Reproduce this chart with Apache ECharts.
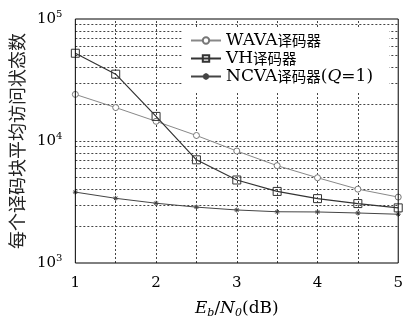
<!DOCTYPE html>
<html><head><meta charset="utf-8">
<script src="https://cdn.jsdelivr.net/npm/echarts@6/dist/echarts.min.js"></script>
<style>html,body{margin:0;padding:0;background:#fff}#c{width:406px;height:324px}</style>
</head><body><div id="c"></div>
<script>
const ebn0 = [1, 1.5, 2, 2.5, 3, 3.5, 4, 4.5, 5];
const wava = [24100, 18800, 14500, 11100, 8280, 6280, 5000, 4030, 3470];
const vh = [52400, 35300, 15900, 7010, 4790, 3860, 3370, 3070, 2830];
const ncva = [3810, 3390, 3090, 2870, 2720, 2630, 2620, 2570, 2510];
const xTicks = [1, 2, 3, 4, 5];
const yMinorGrid = [2000,3000,4000,5000,6000,7000,8000,9000,20000,30000,40000,50000,60000,70000,80000,90000,10000];
const xMinorGrid = [1.5, 2, 2.5, 3, 3.5, 4, 4.5];
const names = ['WAVA译码器', 'VH译码器', 'NCVA译码器(Q=1)'];
const legendText = ['{l|WAVA}{c|译码器}', '{l|VH}{c|译码器}', '{l|NCVA}{c|译码器}{l|(}{q|Q}{l|=1)}'];

const serif = '"DejaVu Serif","Liberation Serif",serif';
const cjk = '"Noto Sans CJK SC",sans-serif';
const gridLine = {color: '#444', width: 1, type: [2, 2]};
const chart = echarts.init(document.getElementById('c'), null, {renderer: 'canvas'});
const pair = a => a.map((v, i) => [ebn0[i], v]);
chart.setOption({
  animation: false,
  backgroundColor: '#fff',
  grid: {left: 74, right: 3, top: 19, bottom: 56, show: true, borderColor: '#000', borderWidth: 1, backgroundColor: 'transparent', z: 10},
  xAxis: {
    type: 'value', min: 1, max: 5, interval: 1,
    axisLine: {show: false}, axisTick: {show: false}, splitLine: {show: false},
    axisLabel: {fontFamily: serif, fontSize: 15, color: '#000', margin: 13},
    name: '{i|E}{s|b}{n|/}{i|N}{s|0}{n|(dB)}', nameLocation: 'middle', nameGap: 36,
    nameTextStyle: {rich: {
      i: {fontFamily: serif, fontStyle: 'italic', fontSize: 17, color: '#000', lineHeight: 20},
      n: {fontFamily: serif, fontSize: 17, color: '#000', lineHeight: 20},
      s: {fontFamily: serif, fontStyle: 'italic', fontSize: 11, color: '#000', lineHeight: 12, verticalAlign: 'bottom'}
    }}
  },
  yAxis: {
    type: 'log', logBase: 10, min: 1000, max: 100000,
    axisLine: {show: false}, axisTick: {show: false}, splitLine: {show: false},
    axisLabel: {
      margin: 13,
      formatter: v => '{b|10}{s|' + Math.round(Math.log10(v)) + '}',
      rich: {
        b: {fontFamily: serif, fontSize: 15, color: '#000', lineHeight: 20, verticalAlign: 'middle'},
        s: {fontFamily: serif, fontSize: 10, color: '#000', lineHeight: 10, verticalAlign: 'top'}
      }
    },
    name: '每个译码块平均访问状态数', nameLocation: 'middle', nameGap: 47,
    nameTextStyle: {fontFamily: cjk, fontSize: 18, color: '#222'}
  },
  legend: {
    show: true, left: 183, top: 27, orient: 'vertical', itemGap: 1, itemWidth: 30, itemHeight: 8, z: 20,
    backgroundColor: '#fff', padding: [5, 16, 6, 7],
    data: names,
    formatter: n => legendText[names.indexOf(n)],
    textStyle: {fontFamily: serif, fontSize: 17, color: '#000',
      rich: {
        l: {fontFamily: serif, fontSize: 17, color: '#000', lineHeight: 20},
        q: {fontFamily: serif, fontStyle: 'italic', fontSize: 17, color: '#000', lineHeight: 20},
        c: {fontFamily: cjk, fontSize: 14.5, color: '#000', lineHeight: 20}
      }}
  },
  series: [
    {name: names[0], type: 'line', data: pair(wava), symbol: 'circle', symbolSize: 6,
     itemStyle: {color: '#fff', borderColor: '#777', borderWidth: 1}, lineStyle: {color: '#888', width: 1}, z: 3,
     markLine: {silent: true, symbol: 'none', label: {show: false}, lineStyle: gridLine, animation: false, z: 1,
       data: yMinorGrid.map(v => ({yAxis: v})).concat(xMinorGrid.map(v => ({xAxis: v})))}},
    {name: names[1], type: 'line', data: pair(vh), symbol: 'rect', symbolSize: 8,
     itemStyle: {color: 'rgba(255,255,255,0)', borderColor: '#333', borderWidth: 1}, lineStyle: {color: '#333', width: 1.2}, z: 4},
    {name: names[2], type: 'line', data: pair(ncva), symbol: 'path://M0,-5L0,5M-5,0L5,0M-3.5,-3.5L3.5,3.5M-3.5,3.5L3.5,-3.5', symbolSize: 5,
     itemStyle: {color: '#444', borderColor: '#444', borderWidth: 1}, lineStyle: {color: '#444', width: 1}, z: 3}
  ]
});
</script></body></html>
